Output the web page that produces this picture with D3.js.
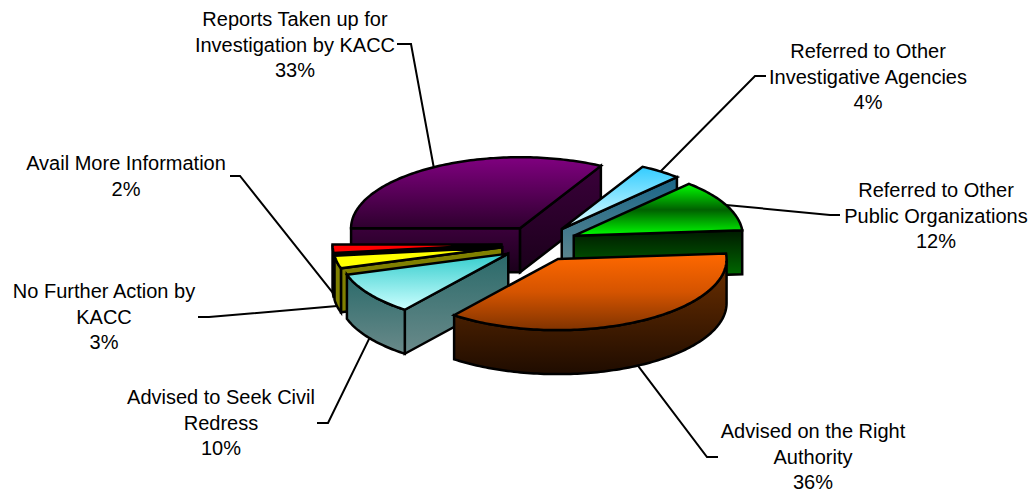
<!DOCTYPE html>
<html><head><meta charset="utf-8">
<script src="https://cdn.jsdelivr.net/npm/d3@7"></script>
<style>html,body{margin:0;padding:0;background:#fff}svg{display:block}text{font-family:"Liberation Sans",Arial,sans-serif;font-size:20px;fill:#000}</style>
</head><body><svg id="c" width="1032" height="492"></svg>
<script>
const categories = ["Reports Taken up for Investigation by KACC","Referred to Other Investigative Agencies","Referred to Other Public Organizations","Advised on the Right Authority","Advised to Seek Civil Redress","No Further Action by KACC","Avail More Information"];
const values = [32.9,4.0,11.8,36.7,9.7,2.9,1.9];
const labelLines = [["Reports Taken up for","Investigation by KACC","33%"],["Referred to Other","Investigative Agencies","4%"],["Referred to Other","Public Organizations","12%"],["Advised on the Right","Authority","36%"],["Advised to Seek Civil","Redress","10%"],["No Further Action by","KACC","3%"],["Avail More Information","2%"]];
const topColors = [["#800080","#2e002e"],["#33ccff","#e6ffff"],["#00ff00","#006000","#00ff00"],["#ff6800","#d55400","#803300"],["#33cccc","#ccffff"],["#ffff00","#ffff00"],["#ff0000","#ff0000"]];
const wallColors = [["#3a003a","#1a001a"],["#1a6688","#668a8f"],["#001a00","#007000"],["#6e3000","#1f0c00"],["#2a6a6a","#6a8a8a"],["#808000","#808000"],["#000000","#000000"]];
const labelCenters = [295,868,936,813,221,104,126];
const labelFirstY = [26,58,197,438,404,298,170];
const leaderElbows = [[411,44,397],[755,76,766],[830,215,840],[707,457,718],[328,423,317],[209,317,198],[240,176,230]];

const W=1032,H=492,cx=539.5,cy=243.5,rx=169,ry=71,depth=44,explodeX=0.225,explodeY=0.25,startDeg=-90,lineStep=25.7;
const svg=d3.select("#c");
const defs=svg.append("defs");
const sx=d3.scaleLinear().domain([-1,1]).range([cx-rx,cx+rx]);
const sy=d3.scaleLinear().domain([-1,1]).range([cy-ry,cy+ry]);
const line=d3.line();
const pie=d3.pie().sort(null).startAngle(startDeg*Math.PI/180).endAngle((startDeg+360)*Math.PI/180).value(d=>d);
function grad(id,cols){
  const g=defs.append("linearGradient").attr("id",id).attr("x1",0).attr("y1",0).attr("x2",0).attr("y2",1);
  cols.forEach((c,i)=>g.append("stop").attr("offset",i/(cols.length-1)).attr("stop-color",c));
  return `url(#${id})`;
}
const slices=pie(values).map((d,i)=>{
  const ts=d.startAngle-Math.PI/2, te=d.endAngle-Math.PI/2, tm=(ts+te)/2;
  const ox=explodeX*Math.cos(tm), oy=explodeY*Math.sin(tm);
  const P=(t,dz=0)=>[sx(Math.cos(t)+ox),sy(Math.sin(t)+oy)+dz];
  const apex=(dz=0)=>[sx(ox),sy(oy)+dz];
  const arc=(a,b,dz=0)=>{const n=Math.max(2,Math.ceil(Math.abs(b-a)/0.02));return d3.range(n+1).map(k=>P(a+(b-a)*k/n,dz));};
  return {i,ts,te,tm,P,apex,arc,ay:apex()[1]};
});
const gSl=svg.append("g");
slices.slice().sort((a,b)=>a.ay-b.ay).forEach(s=>{
  const g=gSl.append("g");
  const wf=grad("w"+s.i,wallColors[s.i]), tf=grad("t"+s.i,topColors[s.i]);
  const shape=(pts,fill)=>g.append("path").attr("d",line(pts)+"Z").attr("fill",fill).attr("stroke","#000").attr("stroke-width",2.5).attr("stroke-linejoin","miter");
  if(Math.cos(s.ts)<0.01) shape([s.apex(),s.P(s.ts),s.P(s.ts,depth),s.apex(depth)],wf);
  if(Math.cos(s.te)>0) shape([s.apex(),s.P(s.te),s.P(s.te,depth),s.apex(depth)],wf);
  const tp=2*Math.PI;
  for(const k of [-1,0,1]){
    const a=Math.max(s.ts,k*tp), b=Math.min(s.te,k*tp+Math.PI);
    if(b>a){ shape(s.arc(a,b).concat(s.arc(b,a,depth)),wf); }
  }
  shape([s.apex()].concat(s.arc(s.ts,s.te)),tf);
});
const gL=svg.append("g");
slices.forEach(s=>{
  const front=Math.sin(s.tm)>0;
  const a=s.P(s.tm,(front||s.i===6)?depth:0);
  const [ex,ey,tx]=leaderElbows[s.i];
  gL.append("path").attr("d",line([a,[ex,ey],[tx,ey]])).attr("fill","none").attr("stroke","#000").attr("stroke-width",2);
  const t=svg.append("text").attr("text-anchor","middle");
  labelLines[s.i].forEach((l,j)=>t.append("tspan").attr("x",labelCenters[s.i]).attr("y",labelFirstY[s.i]+j*lineStep).text(l));
});
</script></body></html>
